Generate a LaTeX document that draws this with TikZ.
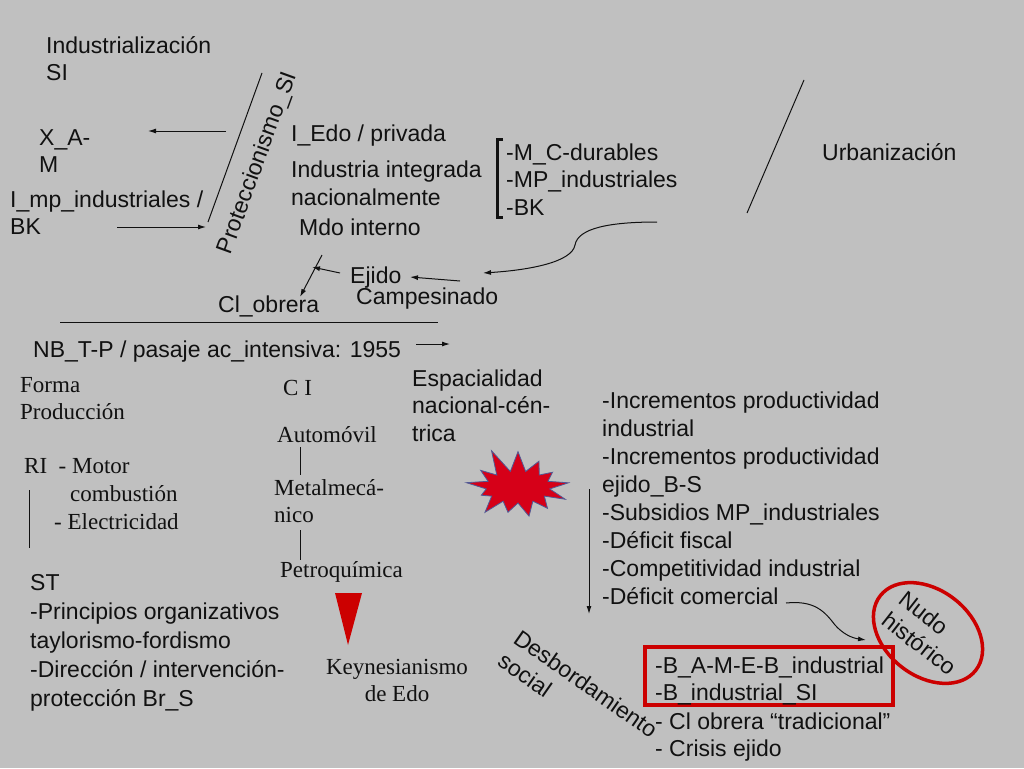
\documentclass[tikz,border=0pt]{standalone}
\usepackage{fontspec}
\setmainfont{Liberation Serif}
\setsansfont{Liberation Sans}
\usetikzlibrary{shapes.geometric, shapes.symbols, arrows.meta, positioning}
\definecolor{fondo}{RGB}{192, 192, 192}
\definecolor{tinta}{RGB}{17, 17, 17}
\definecolor{rojo}{RGB}{204, 0, 0}
\definecolor{estrella}{RGB}{214, 0, 24}
\definecolor{borde}{RGB}{80, 90, 150}

\begin{document}
\begin{tikzpicture}[x=1pt, y=-1pt,
    txt/.style={font=\sffamily\fontsize{23}{27.5}\selectfont, text=tinta, anchor=base west, align=left, inner sep=0pt},
    ser/.style={font=\rmfamily\fontsize{23}{27}\selectfont, text=tinta, anchor=base west, align=left, inner sep=0pt},
    flecha/.style={draw=tinta, line width=1pt, -{Latex[length=8pt, width=5pt]}},
    linea/.style={draw=tinta, line width=1pt}
]
\useasboundingbox (0,0) rectangle (1024,768);
\fill[fondo] (0,0) rectangle (1024,768);

% parte superior (base = ultima linea)
\node[txt] (indus) at (46,80.5) {Industrialización\\SI};
\node[txt] (xam) at (39,172.5) {X\_A-\\M};
\node[txt] (imp) at (10,234.5) {I\_mp\_industriales /\\BK};
\node[txt, rotate=70, anchor=center] (protec) at (258,163) {Proteccionismo\_SI};
\node[txt] (iedo) at (291,141) {I\_Edo / privada};
\node[txt, font=\sffamily\fontsize{23}{28}\selectfont] (integ) at (291,205) {Industria integrada\\nacionalmente};
\node[txt] (mdo) at (299,235) {Mdo interno};
\node[txt] (ejido) at (350,283) {Ejido};
\node[txt] (campe) at (356,304) {Campesinado};
\node[txt] (obrera) at (218,312) {Cl\_obrera};
\node[txt] (bienes) at (506,215) {-M\_C-durables\\-MP\_industriales\\-BK};
\node[txt] (urban) at (822,160) {Urbanización};

\coordinate (protA) at (262,73);
\coordinate (protB) at (208,222);
\draw[linea] (protA) -- (protB);
\coordinate (xamA) at (226,131);
\coordinate (xamB) at (148,131);
\draw[flecha] (xamA) -- (xamB);
\coordinate (impA) at (117,227);
\coordinate (impB) at (206,227);
\draw[flecha] (impA) -- (impB);
\coordinate (mdoA) at (322,255);
\coordinate (mdoB) at (300,297);
\draw[flecha] (mdoA) -- (mdoB);
\coordinate (ejA) at (340,273);
\coordinate (ejB) at (312,267);
\draw[flecha] (ejA) -- (ejB);
\coordinate (caA) at (460,281);
\coordinate (caB) at (410,277);
\draw[flecha] (caA) -- (caB);
\coordinate (curA) at (657,222);
\coordinate (curM) at (575,245);
\coordinate (curB) at (483,273);
\draw[flecha] (curA) .. controls (610,222) and (578,228) .. (curM)
    .. controls (572,262) and (530,270) .. (curB);
\draw[linea, line width=3pt] (503,139) -- (497,139) -- (497,217) -- (503,217);
\coordinate (urbA) at (804,80);
\coordinate (urbB) at (747,213);
\draw[linea] (urbA) -- (urbB);

% parte inferior
\coordinate (hlA) at (60,322);
\coordinate (hlB) at (438,322);
\draw[linea] (hlA) -- (hlB);
\node[txt] (nbtp) at (33,357) {NB\_T-P / pasaje ac\_intensiva: 1955};
\coordinate (nbA) at (416,344);
\coordinate (nbB) at (450,344);
\draw[flecha] (nbA) -- (nbB);
\node[txt] (espac) at (412,441) {Espacialidad\\nacional-cén-\\trica};

\node[ser] (forma) at (20,419) {Forma\\Producción};
\node[ser] (ri) at (24,473) {RI~~- Motor};
\node[ser] (combust) at (70,501) {combustión};
\node[ser] (electr) at (54,529) {- Electricidad};
\draw[linea] (29,490) -- (29,548);
\node[txt, font=\sffamily\fontsize{23}{29}\selectfont] (st) at (30,706) {ST\\-Principios organizativos\\taylorismo-fordismo\\-Dirección / intervención-\\protección Br\_S};

\node[ser] (ci) at (283,395) {C I};
\node[ser] (auto) at (277,442) {Automóvil};
\node[ser] (metal) at (274,522) {Metalmecá-\\nico};
\node[ser] (petro) at (280,577) {Petroquímica};
\draw[linea] (300,447) -- (300,475);
\draw[linea] (300,530) -- (300,560);
\fill[rojo] (335,593) -- (362,593) -- (348,645) -- cycle;
\node[ser, align=center, anchor=base] (keynes) at (397,701) {Keynesianismo\\de Edo};

\node[starburst, starburst points=13, starburst point height=26pt, random starburst=11,
    fill=estrella, draw=borde, line width=0.8pt, minimum width=116pt, minimum height=84pt] (burst) at (518,487) {};

\node[txt, font=\sffamily\fontsize{23}{28}\selectfont] (increm) at (602,604) {-Incrementos productividad\\industrial\\-Incrementos productividad\\ejido\_B-S\\-Subsidios MP\_industriales\\-Déficit fiscal\\-Competitividad industrial\\-Déficit comercial};
\coordinate (baA) at (589,489);
\coordinate (baB) at (589,614);
\draw[flecha] (baA) -- (baB);
\coordinate (comA) at (786,603);
\coordinate (comB) at (866,640);
\draw[flecha] (comA) .. controls (815,600) and (825,612) .. (835,625)
    .. controls (843,634) and (852,638) .. (comB);

\node[txt, anchor=center, rotate=-35] (desbord) at (578,695) {Desbordamiento\\social};
\node[txt, anchor=center, rotate=-38, ellipse, draw=rojo, line width=3.5pt,
    minimum width=112pt, minimum height=86pt] (nudo) at (928,633) {Nudo\\histórico};
\draw[draw=rojo, line width=3.5pt] (645,647) rectangle (893,705);
\node[txt] (brecha) at (655,700.5) {-B\_A-M-E-B\_industrial\\-B\_industrial\_SI};
\node[txt] (crisis) at (655,756.5) {- Cl obrera “tradicional”\\- Crisis ejido};
\end{tikzpicture}
\end{document}
